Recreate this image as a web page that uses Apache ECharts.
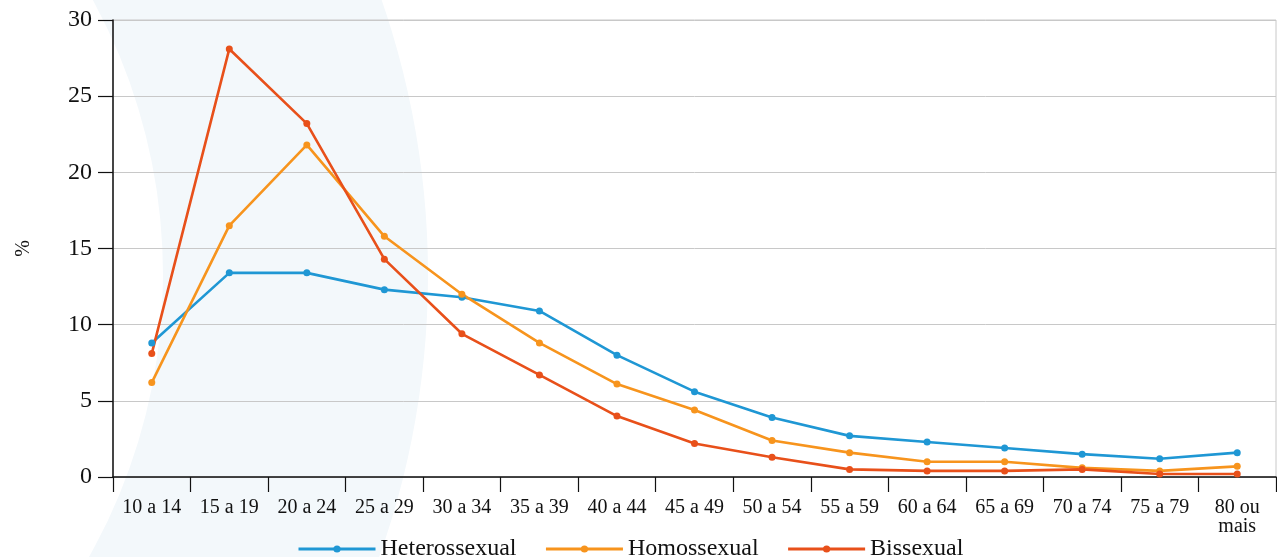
<!DOCTYPE html>
<html><head><meta charset="utf-8">
<script src="https://cdn.jsdelivr.net/npm/echarts@6/dist/echarts.min.js"></script>
<style>html,body{margin:0;padding:0;background:#fff}#c{width:1277px;height:557px}</style>
</head><body><div id="c"></div>
<script>
const categories = ['10 a 14','15 a 19','20 a 24','25 a 29','30 a 34','35 a 39','40 a 44','45 a 49','50 a 54','55 a 59','60 a 64','65 a 69','70 a 74','75 a 79','80 ou\nmais'];
const hetero = [8.8, 13.4, 13.4, 12.3, 11.8, 10.9, 8.0, 5.6, 3.9, 2.7, 2.3, 1.9, 1.5, 1.2, 1.6];
const homo   = [6.2, 16.5, 21.8, 15.8, 12.0, 8.8, 6.1, 4.4, 2.4, 1.6, 1.0, 1.0, 0.6, 0.4, 0.7];
const bi     = [8.1, 28.1, 23.2, 14.3, 9.4, 6.7, 4.0, 2.2, 1.3, 0.5, 0.4, 0.4, 0.5, 0.2, 0.2];
const yTicks = [0, 5, 10, 15, 20, 25, 30];
const seriesNames = ['Heterossexual','Homossexual','Bissexual'];
const colors = ['#1f97d4','#f7941d','#e8501a'];
const FONT = '"Liberation Serif", "Times New Roman", serif';

const chart = echarts.init(document.getElementById('c'), null, {renderer:'canvas'});
const mk = (name, data, color) => ({
  name, type:'line', data, color,
  symbol:'circle', symbolSize:7,
  lineStyle:{width:2.6, color},
  itemStyle:{color},
  emphasis:{disabled:true}
});
chart.setOption({
  animation:false,
  backgroundColor:'#fff',
  textStyle:{fontFamily:FONT},
  graphic:{elements:[{
    type:'ring', silent:true, z:-100,
    shape:{cx:-411, cy:275, r:839, r0:574},
    style:{fill:'#f3f8fb'}
  }]},
  grid:{left:113, right:1, top:20, bottom:80, containLabel:false, outerBoundsMode:'none',
        show:true, borderColor:'#c8c8c8', borderWidth:1, backgroundColor:'transparent'},
  legend:{
    data:seriesNames, left:292, top:532,
    itemWidth:77, itemHeight:9, itemGap:28,
    lineStyle:{width:3},
    textStyle:{fontFamily:FONT, fontSize:24, color:'#111'}
  },
  xAxis:{
    type:'category', data:categories, boundaryGap:true,
    axisLine:{lineStyle:{color:'#111', width:1.5}},
    axisTick:{show:true, length:15, lineStyle:{color:'#111', width:1.2}},
    axisLabel:{fontFamily:FONT, fontSize:20, color:'#111', margin:21, lineHeight:19, interval:0}
  },
  yAxis:{
    type:'value', min:yTicks[0], max:yTicks[yTicks.length-1], interval:5,
    name:'%', nameLocation:'middle', nameRotate:90, nameGap:79,
    nameTextStyle:{fontFamily:FONT, fontSize:20, color:'#111'},
    axisLine:{show:true, lineStyle:{color:'#111', width:1.5}},
    axisTick:{show:true, inside:false, length:15, lineStyle:{color:'#111', width:1.2}},
    axisLabel:{fontFamily:FONT, fontSize:24, color:'#111', margin:21},
    splitLine:{show:true, lineStyle:{color:'#c8c8c8', width:1}}
  },
  series:[mk(seriesNames[0], hetero, colors[0]), mk(seriesNames[1], homo, colors[1]), mk(seriesNames[2], bi, colors[2])]
});
</script></body></html>
